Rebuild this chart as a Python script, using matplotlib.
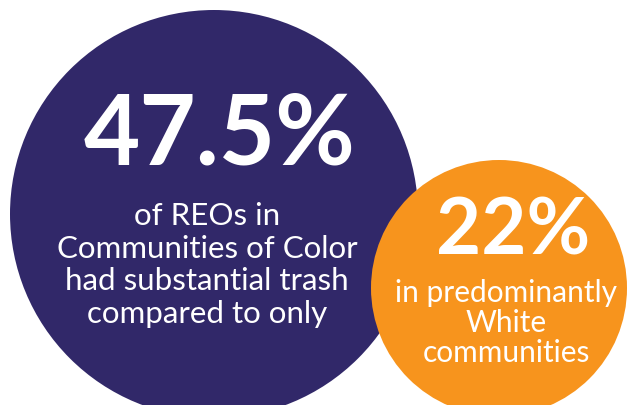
import matplotlib
matplotlib.use("Agg")
import matplotlib.pyplot as plt
from matplotlib.patches import Circle

# values shown in the two bubbles
stats = [47.5, 22]
stat_labels = ["47.5%", "22%"]
captions = [
    "of REOs in\nCommunities of Color\nhad substantial trash\ncompared to only",
    "in predominantly\nWhite\ncommunities",
]
colors = ["#312869", "#F7941D"]

W, H = 629, 406
fig = plt.figure(figsize=(W / 100, H / 100), dpi=100)
ax = fig.add_axes([0, 0, 1, 1])
ax.set_xlim(0, W)
ax.set_ylim(H, 0)
ax.set_aspect("equal")
ax.axis("off")

# bubble geometry (pixels)
centers = [(214, 215), (499, 289)]
radii = [204, 128]

for (cx, cy), r, c in zip(centers, radii, colors):
    ax.add_patch(Circle((cx, cy), r, color=c, lw=0))

font = "Lato"

# big circle
ax.text(220, 136, stat_labels[0], color="white", fontsize=70, fontweight="bold",
        family=font, ha="center", va="center")
ax.text(207, 265, captions[0], color="white", fontsize=22.5, fontweight="normal",
        family=font, ha="center", va="center", linespacing=1.2)

# small circle
ax.text(513, 233, stat_labels[1], color="white", fontsize=56, fontweight="bold",
        family=font, ha="center", va="center")
ax.text(506, 323, captions[1], color="white", fontsize=21.5, fontweight="normal",
        family=font, ha="center", va="center", linespacing=1.1)

fig.savefig("out.png", dpi=100)
